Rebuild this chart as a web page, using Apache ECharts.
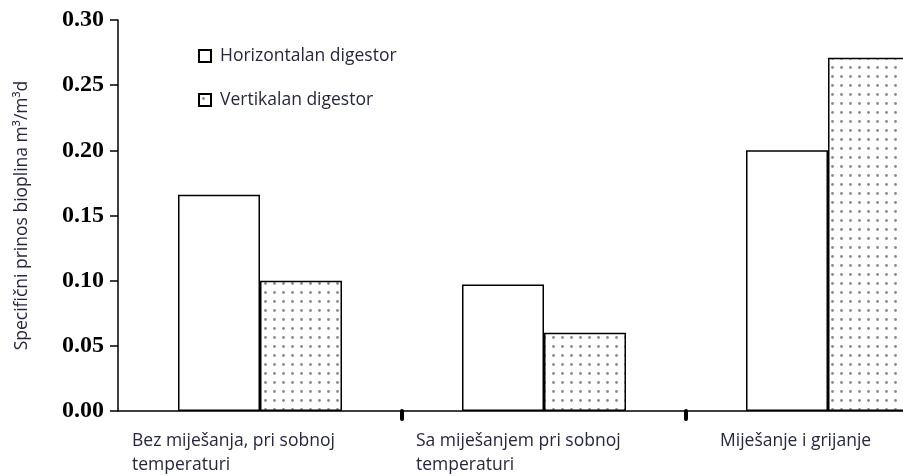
<!DOCTYPE html>
<html>
<head>
<meta charset="utf-8">
<script src="https://cdn.jsdelivr.net/npm/echarts@6/dist/echarts.min.js"></script>
<style>
    html, body { margin: 0; padding: 0; background: #fff; }
    #chart { width: 903px; height: 476px; }
</style>
</head>
<body>
<div id="chart"></div>
<script>
// data
var categories = ['Bez miješanja, pri sobnoj\ntemperaturi', 'Sa miješanjem pri sobnoj\ntemperaturi', 'Miješanje i grijanje'];
var seriesNames = ['Horizontalan digestor', 'Vertikalan digestor'];
var horizontalValues = [0.166, 0.097, 0.200];
var verticalValues = [0.100, 0.060, 0.271];
var yTicks = { min: 0, max: 0.30, interval: 0.05 };

// small repeating canvas with a grey dot -> dotted fill
function makeDots () {
    var c = document.createElement('canvas');
    c.width = 9;
    c.height = 9;
    var ctx = c.getContext('2d');
    ctx.fillStyle = '#fff';
    ctx.fillRect(0, 0, 9, 9);
    ctx.fillStyle = '#8a8a8a';
    ctx.beginPath();
    ctx.arc(4.5, 4.5, 1.4, 0, Math.PI * 2);
    ctx.fill();
    return c;
}

var textColor = '#262640';
var labelWidths = [256, 256, 216];
var labelFont = 17.5;

var chart = echarts.init(document.getElementById('chart'));
var option = {
    animation: false,
    grid: { left: 118, top: 20, bottom: 65, width: 852, outerBoundsMode: 'none' },
    legend: {
        orient: 'vertical',
        left: 193,
        top: 42,
        itemGap: 26,
        itemWidth: 12,
        itemHeight: 12,
        icon: 'rect',
        textStyle: { fontFamily: 'Open Sans', fontSize: labelFont, lineHeight: 18, color: textColor, padding: [0, 0, 0, 4] },
        data: seriesNames
    },
    xAxis: {
        type: 'category',
        data: categories,
        axisLine: { lineStyle: { color: '#000', width: 1.5 } },
        axisTick: {
            show: true,
            length: 8,
            interval: function (i) { return i !== 0; },
            lineStyle: { color: '#000', width: 4, cap: 'round' }
        },
        axisLabel: {
            margin: 18,
            align: 'center',
            lineHeight: 24,
            formatter: function (v, i) {
                return v.split('\n').map(function (s) { return '{c' + i + '|' + s + '}'; }).join('\n');
            },
            rich: {
                c0: { width: labelWidths[0], align: 'left', fontFamily: 'Open Sans', fontSize: labelFont, color: textColor, lineHeight: 24 },
                c1: { width: labelWidths[1], align: 'left', fontFamily: 'Open Sans', fontSize: labelFont, color: textColor, lineHeight: 24 },
                c2: { width: labelWidths[2], align: 'left', fontFamily: 'Open Sans', fontSize: labelFont, color: textColor, lineHeight: 24 }
            }
        }
    },
    yAxis: {
        type: 'value',
        min: yTicks.min,
        max: yTicks.max,
        interval: yTicks.interval,
        name: 'Specifični prinos bioplina m³/m³d',
        nameLocation: 'middle',
        nameGap: 87,
        nameTextStyle: { fontFamily: 'Open Sans', fontSize: labelFont, color: textColor },
        splitLine: { show: false },
        axisLine: { show: true, lineStyle: { color: '#000', width: 1.5 } },
        axisTick: { show: true, length: 8, lineStyle: { color: '#000', width: 1.5 } },
        axisLabel: {
            margin: 14,
            fontFamily: 'Liberation Serif',
            fontWeight: 'bold',
            fontSize: 24,
            color: '#000',
            formatter: function (v) { return v.toFixed(2); }
        }
    },
    series: [
        {
            name: seriesNames[0],
            type: 'bar',
            barWidth: 82,
            barGap: '0%',
            data: horizontalValues,
            itemStyle: { color: '#fff', borderColor: '#000', borderWidth: 1.5 }
        },
        {
            name: seriesNames[1],
            type: 'bar',
            barWidth: 82,
            data: verticalValues,
            itemStyle: { color: { image: makeDots(), repeat: 'repeat' }, borderColor: '#000', borderWidth: 1.5 }
        }
    ]
};
chart.setOption(option);
</script>
</body>
</html>
